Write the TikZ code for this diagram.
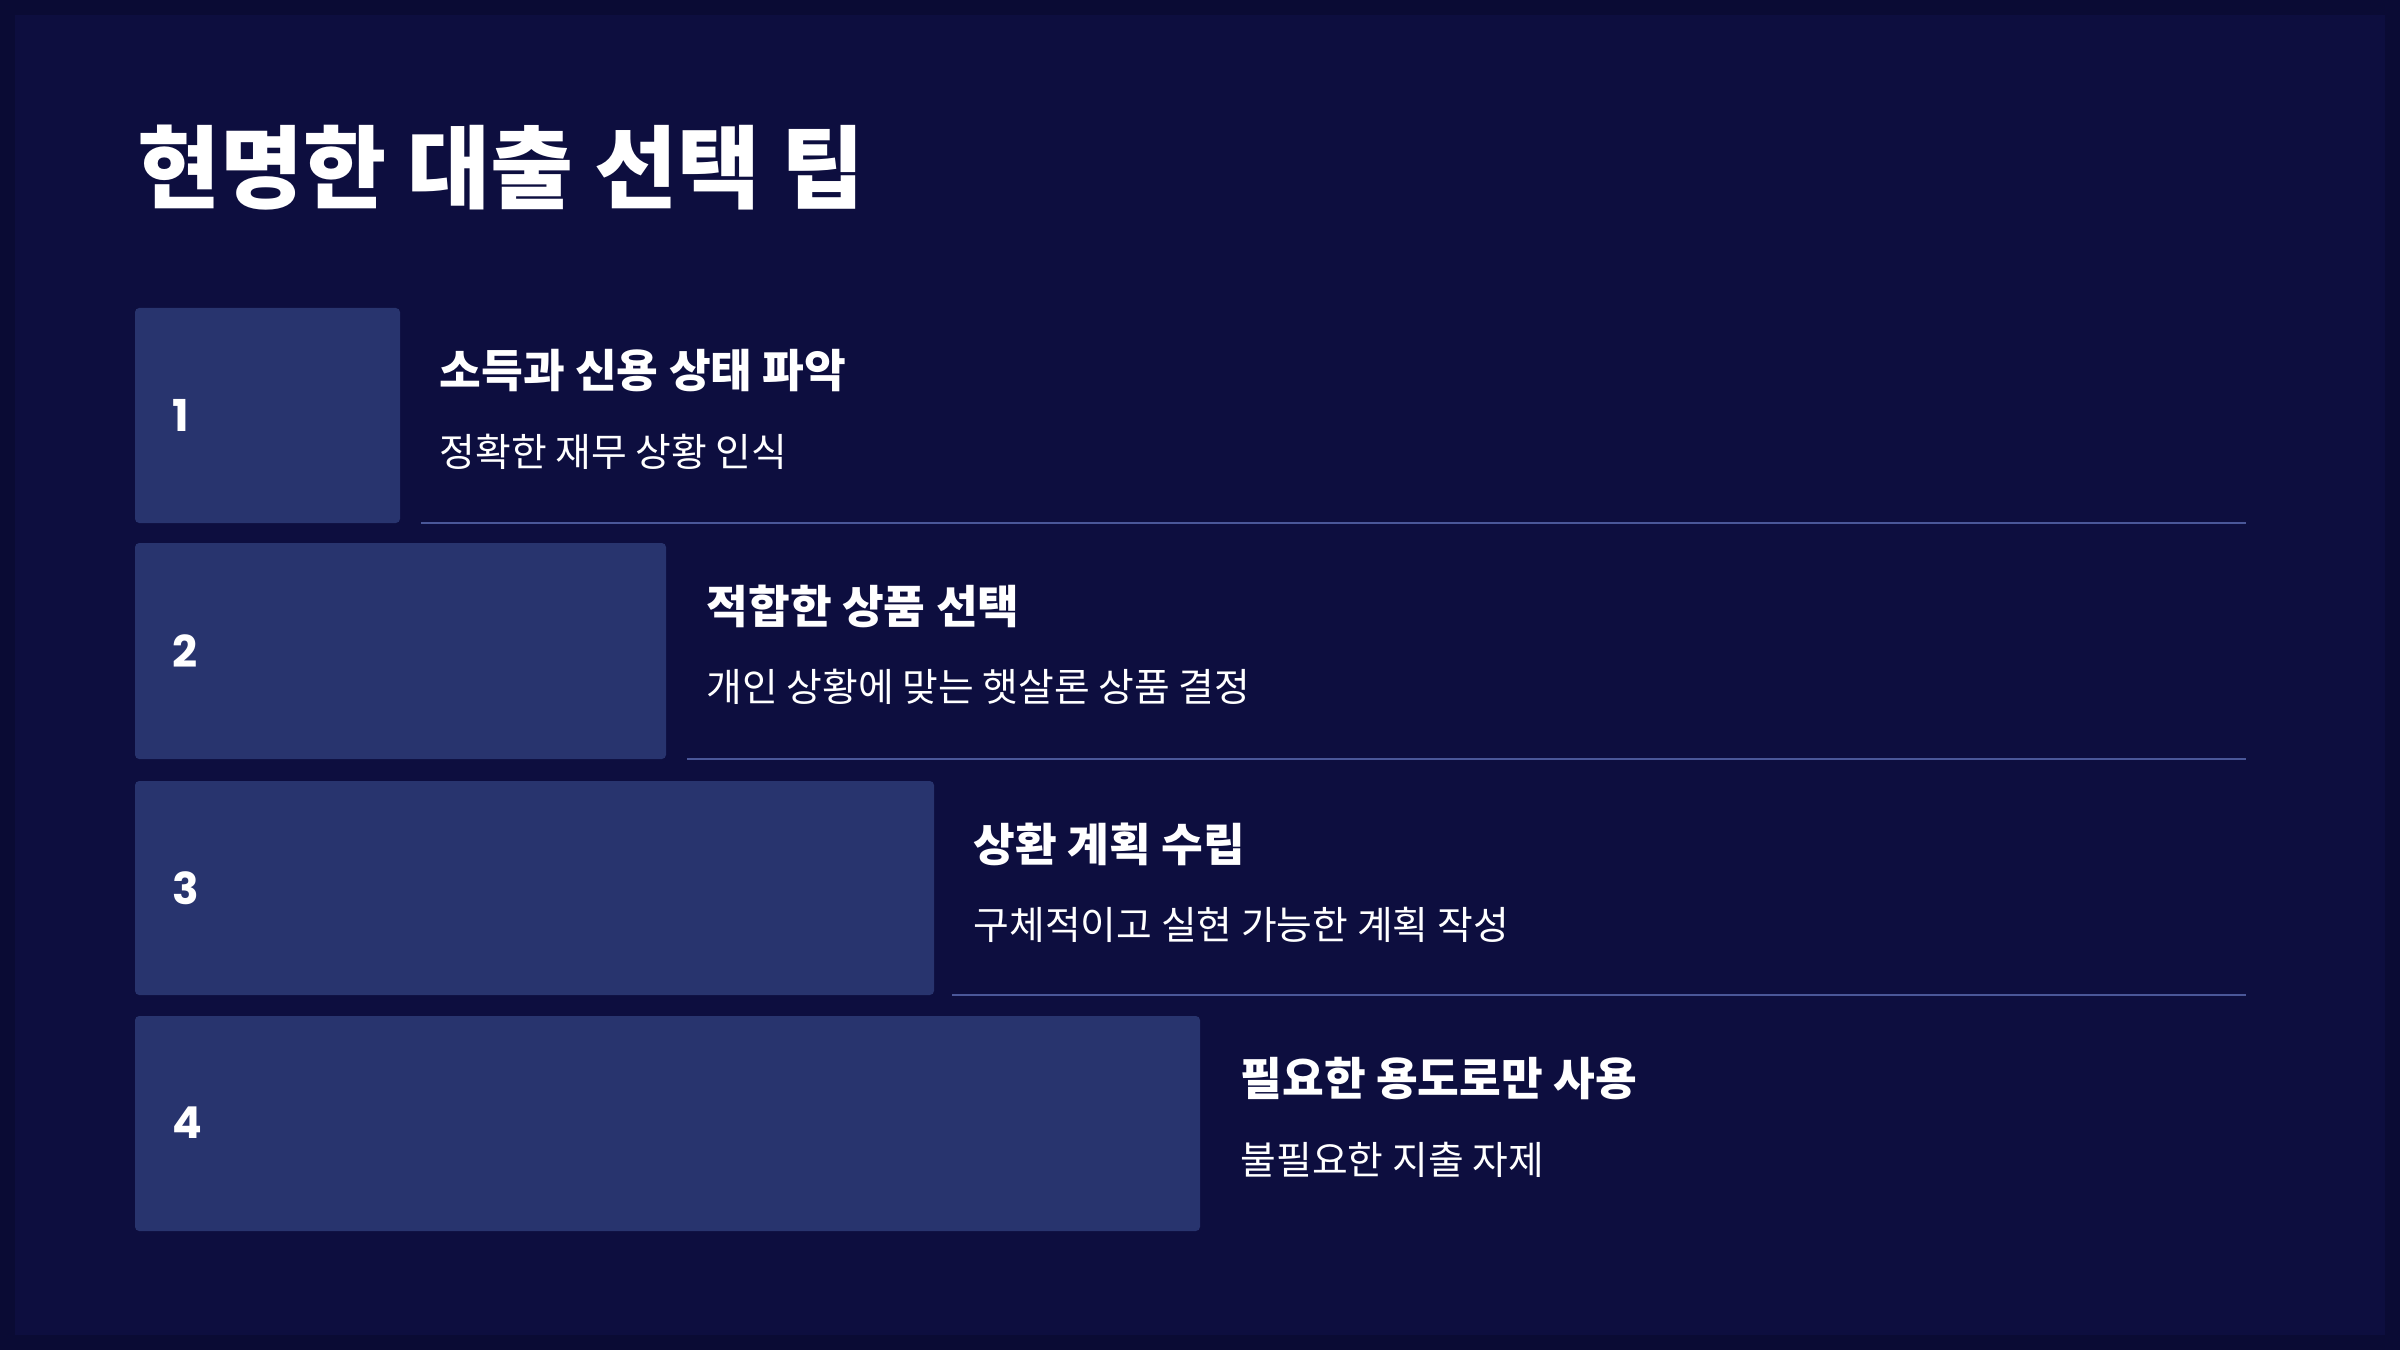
\documentclass[tikz,border=0pt]{standalone}
\usepackage{fontspec}
\newfontfamily\cjk{Noto Sans CJK KR}
\newfontfamily\numfont{Poppins}
\definecolor{frame}{HTML}{0A0B34}
\definecolor{page}{HTML}{0D0E3F}
\definecolor{stepfill}{HTML}{28346E}
\definecolor{rule}{HTML}{4A5799}

\begin{document}
\begin{tikzpicture}[
    stepbox/.style={fill=stepfill, rounded corners=1.2pt},
    num/.style={anchor=west, inner sep=0, text=white, font=\numfont\bfseries\fontsize{12.5}{14}\selectfont},
    head/.style={anchor=west, inner sep=0, text=white, font=\cjk\bfseries\fontsize{12.9}{15}\selectfont},
    sub/.style={anchor=west, inner sep=0, text=white, font=\cjk\fontsize{11.05}{13}\selectfont},
    sep/.style={draw=rule, line width=0.6pt}
  ]
  \useasboundingbox (0,0) rectangle (24,13.5);

  % Background
  \fill[frame] (0,0) rectangle (24,13.5);
  \fill[page] (0.15,0.15) rectangle (23.85,13.35);

  % Title
  \node [anchor=west, inner sep=0, text=white, font=\cjk\bfseries\fontsize{25.7}{30}\selectfont] (title) at (1.37,11.82) {현명한 대출 선택 팁};

  % Step bars
  \fill[stepbox] (1.35,8.27) rectangle (4.00,10.42);
  \fill[stepbox] (1.35,5.91) rectangle (6.66,8.07);
  \fill[stepbox] (1.35,3.55) rectangle (9.34,5.69);
  \fill[stepbox] (1.35,1.19) rectangle (12.00,3.34);

  % Step numbers
  \node [num] (n1) at (1.72,9.35) {1};
  \node [num] (n2) at (1.72,6.99) {2};
  \node [num] (n3) at (1.72,4.62) {3};
  \node [num] (n4) at (1.72,2.27) {4};

  % Step headings
  \node [head] (h1) at (4.39,9.79) {소득과 신용 상태 파악};
  \node [head] (h2) at (7.06,7.44) {적합한 상품 선택};
  \node [head] (h3) at (9.73,5.06) {상환 계획 수립};
  \node [head] (h4) at (12.40,2.71) {필요한 용도로만 사용};

  % Step descriptions
  \node [sub] (d1) at (4.39,8.98) {정확한 재무 상황 인식};
  \node [sub] (d2) at (7.06,6.63) {개인 상황에 맞는 햇살론 상품 결정};
  \node [sub] (d3) at (9.73,4.25) {구체적이고 실현 가능한 계획 작성};
  \node [sub] (d4) at (12.40,1.90) {불필요한 지출 자제};

  % Separators
  \draw[sep] (4.21,8.27) -- (22.46,8.27);
  \draw[sep] (6.87,5.91) -- (22.46,5.91);
  \draw[sep] (9.52,3.55) -- (22.46,3.55);
\end{tikzpicture}
\end{document}
